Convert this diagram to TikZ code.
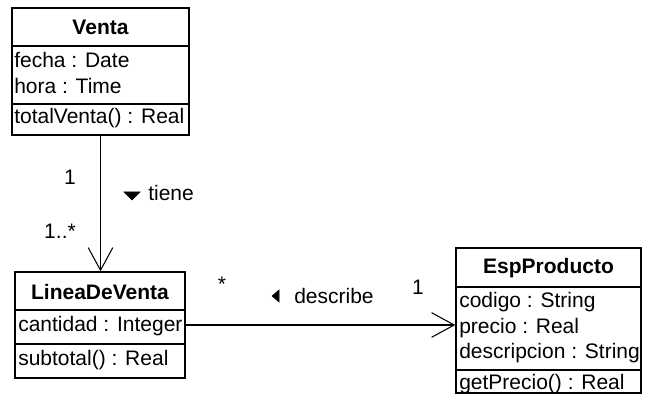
\documentclass[tikz,border=0pt]{standalone}
\usepackage{fontspec}
\setmainfont{Liberation Sans}
\usetikzlibrary{fit,arrows.meta}
\tikzset{
  box/.style={draw, line width=1pt, inner sep=0pt, fit=#1},
  sep/.style={line width=1pt},
  title/.style={font=\fontsize{15.75}{19}\selectfont\bfseries, inner sep=0pt},
  attr/.style={font=\fontsize{15.75}{19}\selectfont, inner sep=0pt, anchor=west},
  lbl/.style={font=\fontsize{15.75}{19}\selectfont, inner sep=0pt},
  assoc/.style={line width=0.8pt, -{Straight Barb[length=17pt, width=18.5pt, line width=0.8pt]}},
  tri/.style={fill=black}
}
\begin{document}
\begin{tikzpicture}[x=0.75pt, y=-0.75pt]
\useasboundingbox (0,0) rectangle (656,409);
% Venta
\coordinate (va) at (12,8); \coordinate (vb) at (189,135);
\node[box={(va)(vb)}] (venta) {};
\draw[sep] (12,46) -- (189,46);
\draw[sep] (12,104) -- (189,104);
\node[title] (vt) at (100.5,27) {Venta};
\node[attr] (v1) at (14,60) {fecha : Date};
\node[attr] (v2) at (14,86) {hora : Time};
\node[attr] (v3) at (14,118) {totalVenta() : Real};
% LineaDeVenta
\coordinate (la) at (15,272); \coordinate (lb) at (185,378);
\node[box={(la)(lb)}] (linea) {};
\draw[sep] (15,310) -- (185,310);
\draw[sep] (15,344) -- (185,344);
\node[title] (lt) at (100,292) {LineaDeVenta};
\node[attr] (l1) at (18,326) {cantidad : Integer};
\node[attr] (l2) at (18,360) {subtotal() : Real};
% EspProducto
\coordinate (ea) at (456,248); \coordinate (eb) at (641,393);
\node[box={(ea)(eb)}] (esp) {};
\draw[sep] (456,287) -- (641,287);
\draw[sep] (456,370) -- (641,370);
\node[title] (et) at (548.5,268) {EspProducto};
\node[attr] (e1) at (459,302) {codigo : String};
\node[attr] (e2) at (459,328) {precio : Real};
\node[attr] (e3) at (459,353) {descripcion : String};
\node[attr] (e4) at (459,384) {getPrecio() : Real};
% associations
\draw[assoc] (venta.south) -- (venta.south |- linea.north);
\draw[assoc] (linea.east) -- (linea.east -| esp.west);
% labels
\node[lbl] (m1) at (70,177) {1};
\node[lbl] (m2) at (60,231) {1..*};
\draw[tri] (124,192) -- (140,192) -- (132,200) -- cycle;
\node[lbl, anchor=west] (tiene) at (148,193) {tiene};
\node[lbl] (m3) at (222,284) {*};
\node[lbl] (m4) at (418,287) {1};
\draw[tri] (279,290) -- (279,302) -- (272,296) -- cycle;
\node[lbl, anchor=west] (desc) at (294,296) {describe};
\end{tikzpicture}
\end{document}
